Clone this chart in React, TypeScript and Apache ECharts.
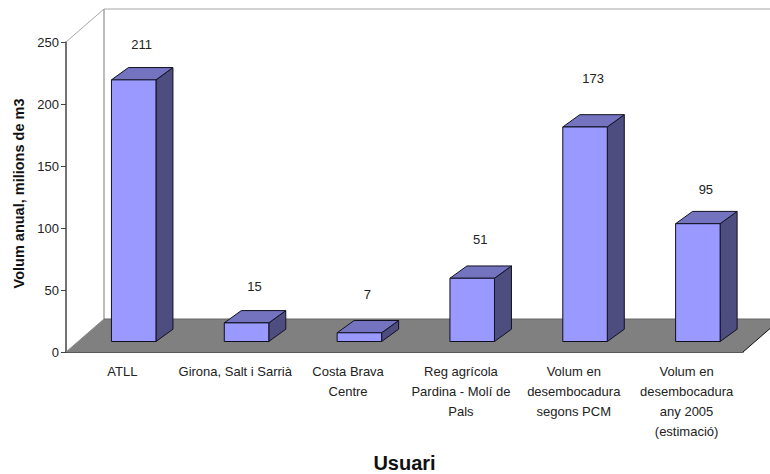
import React, { useEffect, useRef } from "react";
import * as echarts from "echarts";

const categories = [
  "ATLL",
  "Girona, Salt i Sarrià",
  "Costa Brava\nCentre",
  "Reg agrícola\nPardina - Molí de\nPals",
  "Volum en\ndesembocadura\nsegons PCM",
  "Volum en\ndesembocadura\nany 2005\n(estimació)",
];
const values = [211, 15, 7, 51, 173, 95];
const yTicks = { min: 0, max: 250, interval: 50 };
const labelLift = [35, 36, 38, 39, 48, 34];

const FONT = '"Liberation Sans", Arial, sans-serif';
const FLOOR_DX = 38;
const FLOOR_DY = 33;
const WALL_TOP = 33;

function renderWalls(_p: any, api: any) {
  const band = api.size([1, 0])[0];
  const [c0x, y0] = api.coord([0, 0]);
  const yTop = api.coord([0, yTicks.max])[1];
  const left = c0x - band / 2;
  const right = left + band * categories.length;
  const backL = left + FLOOR_DX;
  const backY = y0 - FLOOR_DY;
  const topY = yTop - WALL_TOP;
  const grey = "#a6a6a6";
  const line = (x1: number, y1: number, x2: number, y2: number, stroke: string, lineWidth = 1) => ({
    type: "line",
    shape: { x1, y1, x2, y2 },
    style: { stroke, lineWidth },
  });
  return {
    type: "group",
    children: [
      line(left, yTop, backL, topY, grey),
      line(backL, topY, right + FLOOR_DX, topY, grey),
      line(backL, topY, backL, backY, grey, 1.5),
      {
        type: "polygon",
        shape: { points: [[left, y0], [right, y0], [right + FLOOR_DX, backY], [backL, backY]] },
        style: { fill: "#808080", stroke: "none" },
      },
      line(backL, backY, right + FLOOR_DX, backY, "#666666"),
      line(left, y0, backL, backY, "#8c8c8c"),
      line(right, y0, right + FLOOR_DX, backY, "#111111"),
    ],
  };
}

function renderBar(_p: any, api: any) {
  const i = api.value(0);
  const v = api.value(1);
  const band = api.size([1, 0])[0];
  const w = 44.5;
  const shiftX = band * 0.1;
  const shiftY = 10.5;
  const dx = 17;
  const dy = 12.3;
  const cx = api.coord([i, 0])[0] + shiftX;
  const x0 = cx - w / 2;
  const x1 = cx + w / 2;
  const yb = api.coord([i, 0])[1] - shiftY;
  const yt = api.coord([i, v])[1] - shiftY;
  const stroke = { stroke: "#101020", lineWidth: 1, lineJoin: "round" };
  return {
    type: "group",
    children: [
      {
        type: "polygon",
        shape: { points: [[x1, yb], [x1, yt], [x1 + dx, yt - dy], [x1 + dx, yb - dy]] },
        style: { fill: "#4d4d80", ...stroke },
      },
      {
        type: "polygon",
        shape: { points: [[x0, yt], [x0 + dx, yt - dy], [x1 + dx, yt - dy], [x1, yt]] },
        style: { fill: "#7373bf", ...stroke },
      },
      {
        type: "rect",
        shape: { x: x0, y: yt, width: w, height: yb - yt },
        style: { fill: "#9999ff", ...stroke },
      },
      {
        type: "text",
        style: {
          text: String(v),
          x: cx + 8,
          y: yt - labelLift[i],
          align: "center",
          verticalAlign: "middle",
          font: `13px ${FONT}`,
          fill: "#222222",
        },
      },
    ],
  };
}

export default function App() {
  const ref = useRef<HTMLDivElement>(null);
  useEffect(() => {
    document.body.style.margin = "0";
    const chart = echarts.init(ref.current!, null, { renderer: "svg" });
    chart.setOption({
      animation: false,
      backgroundColor: "#ffffff",
      grid: { left: 66, right: 27, top: 42, bottom: 122, containLabel: false, outerBoundsMode: "none" },
      xAxis: {
        type: "category",
        data: categories,
        name: "Usuari",
        nameLocation: "middle",
        nameGap: 101,
        nameTextStyle: { fontFamily: FONT, fontSize: 20, fontWeight: "bold", color: "#111111" },
        axisLine: { lineStyle: { color: "#222222", width: 1.5 } },
        axisTick: { length: 7, lineStyle: { color: "#222222" } },
        axisLabel: {
          interval: 0,
          margin: 9,
          fontFamily: FONT,
          fontSize: 13,
          lineHeight: 20,
          color: "#222222",
        },
      },
      yAxis: {
        type: "value",
        min: yTicks.min,
        max: yTicks.max,
        interval: yTicks.interval,
        name: "Volum anual, milions de m3",
        nameLocation: "middle",
        nameGap: 40,
        nameTextStyle: {
          fontFamily: FONT,
          fontSize: 14.5,
          fontWeight: "bold",
          color: "#111111",
          padding: [0, 0, 0, 7],
        },
        splitLine: { show: false },
        axisLine: { show: true, lineStyle: { color: "#444444", width: 1.5 } },
        axisTick: { show: true, length: 5, lineStyle: { color: "#444444" } },
        axisLabel: { margin: 7, fontFamily: FONT, fontSize: 13, color: "#222222" },
      },
      series: [
        {
          type: "custom",
          coordinateSystem: "cartesian2d",
          renderItem: renderWalls,
          data: [[0, 0]],
          clip: false,
          z: 1,
          silent: true,
        },
        {
          type: "custom",
          coordinateSystem: "cartesian2d",
          renderItem: renderBar,
          data: values.map((v, i) => [i, v]),
          encode: { x: 0, y: 1 },
          clip: false,
          z: 3,
        },
      ],
    });
    return () => chart.dispose();
  }, []);
  return <div ref={ref} style={{ width: 770, height: 474 }} />;
}
